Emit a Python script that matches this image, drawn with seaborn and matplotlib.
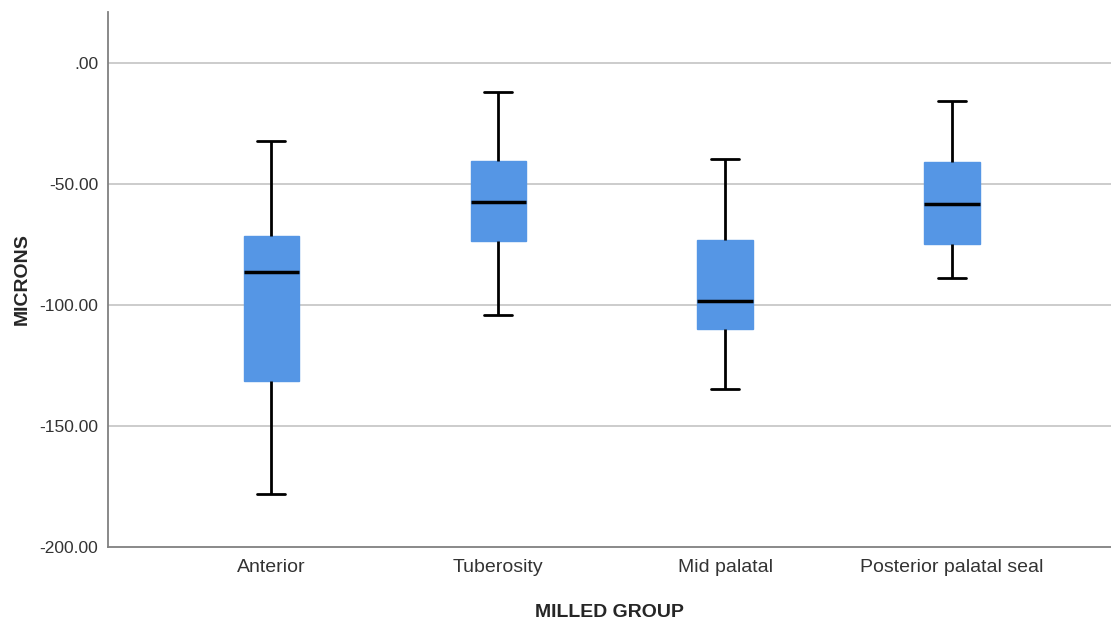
import matplotlib
matplotlib.use("Agg")
import matplotlib.pyplot as plt
import seaborn as sns
import pandas as pd

"""
boxplot of microns by milled group
"""

GROUPS = ["Anterior", "Tuberosity", "Mid palatal", "Posterior palatal seal"]
# five-number summary per group: min, q1, median, q3, max
ANTERIOR = [-178.1, -131.4, -86.4, -71.5, -32.2]
TUBEROSITY = [-104.1, -73.6, -57.4, -40.5, -12.0]
MID_PALATAL = [-134.7, -109.9, -98.3, -73.1, -39.7]
POSTERIOR = [-88.8, -74.8, -58.3, -40.9, -15.7]
Y_TICKS = [0, -50, -100, -150, -200]
Y_LABELS = [".00", "-50.00", "-100.00", "-150.00", "-200.00"]

BOX_BLUE = "#5596E5"


def main():
    sns.set_style("white")
    plt.rcParams["font.family"] = ["Liberation Sans", "DejaVu Sans"]

    rows = []
    for group, values in zip(GROUPS, [ANTERIOR, TUBEROSITY, MID_PALATAL, POSTERIOR]):
        for v in values:
            rows.append({"group": group, "microns": v})
    df = pd.DataFrame(rows)

    fig = plt.figure(figsize=(11.11, 6.24), dpi=100)
    ax = fig.add_axes([0.0972, 0.1234, 0.9028, 0.8574])

    # grid lines behind the boxes
    for t in Y_TICKS[:-1]:
        ax.axhline(t, color="#c8c8c8", lw=1.3, zorder=0)

    sns.boxplot(
        data=df, x="group", y="microns", order=GROUPS, ax=ax,
        whis=(0, 100), width=0.245, color=BOX_BLUE, saturation=1,
        boxprops=dict(facecolor=BOX_BLUE, edgecolor=BOX_BLUE, linewidth=1),
        medianprops=dict(color="black", linewidth=2.5),
        whiskerprops=dict(color="black", linewidth=2),
        capprops=dict(color="black", linewidth=2),
        showfliers=False,
    )

    ax.set_xlim(-0.72, 3.70)
    ax.set_ylim(-200, 21)
    ax.set_yticks(Y_TICKS)
    ax.set_yticklabels(Y_LABELS)
    ax.tick_params(axis="both", length=0, labelsize=12.5, colors="#333333")
    ax.tick_params(axis="y", pad=7)
    ax.tick_params(axis="x", pad=9)
    ax.tick_params(axis="x", labelsize=14)

    ax.set_xlabel("MILLED GROUP", fontsize=14, fontweight="bold", labelpad=20)
    ax.set_ylabel("MICRONS", fontsize=14, fontweight="bold", labelpad=6)

    for side in ["top", "right"]:
        ax.spines[side].set_visible(False)
    for side in ["left", "bottom"]:
        ax.spines[side].set_color("#808080")
        ax.spines[side].set_linewidth(1.3)

    fig.savefig("out.png", dpi=100)


if __name__ == '__main__':
    main()
